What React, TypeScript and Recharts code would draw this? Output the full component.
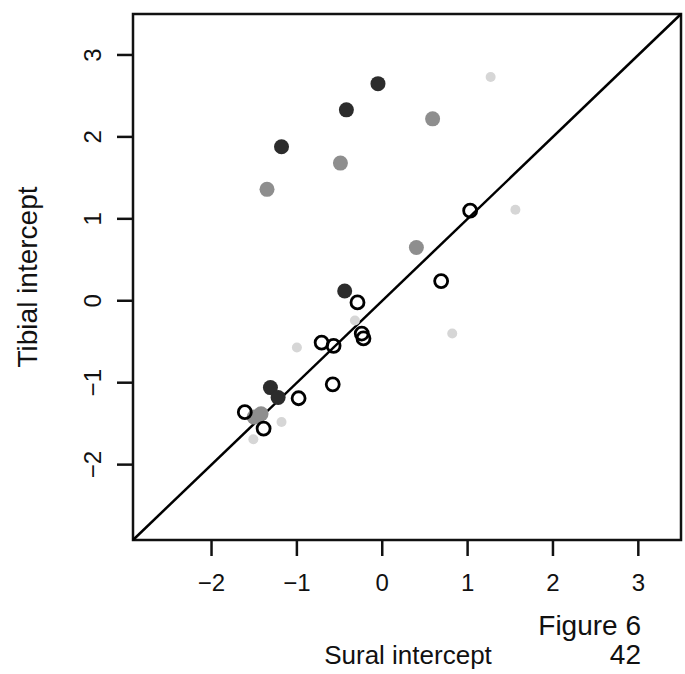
import { ScatterChart, Scatter, XAxis, YAxis, ReferenceLine, ReferenceArea } from 'recharts'

// values
const openX = [1.03, 0.69, -0.29, -0.24, -0.22, -0.71, -0.57, -0.58, -0.98, -1.61, -1.39]
const openY = [1.10, 0.24, -0.02, -0.40, -0.46, -0.51, -0.55, -1.02, -1.19, -1.36, -1.56]
const darkX = [-0.05, -0.42, -1.18, -0.44, -1.31, -1.22]
const darkY = [2.65, 2.33, 1.88, 0.12, -1.06, -1.18]
const grayX = [0.59, -0.49, -1.35, 0.40, -1.50, -1.42]
const grayY = [2.22, 1.68, 1.36, 0.65, -1.42, -1.38]
const lightX = [1.27, 1.56, 0.82, -0.32, -1.00, -1.51, -1.18]
const lightY = [2.73, 1.11, -0.40, -0.24, -0.57, -1.69, -1.48]
const ticks = [-2, -1, 0, 1, 2, 3]
const lo = -2.92
const hi = 3.5

const zip = (xs: number[], ys: number[]) => xs.map((x, i) => ({ x, y: ys[i] }))

const font = '"Liberation Sans", Arial, sans-serif'

const dot = (fill: string, stroke: string, r: number, sw = 0) => (p: any) => (
  <circle cx={p.cx} cy={p.cy} r={r} fill={fill} stroke={stroke} strokeWidth={sw} />
)

const fmt = (v: number) => (v < 0 ? '\u2212' + Math.abs(v) : String(v))

const XTick = (p: any) => (
  <text x={p.x} y={591} textAnchor="middle" fontSize={24} fontFamily={font} fill="#111">
    {fmt(p.payload.value)}
  </text>
)

const YTick = (p: any) => (
  <text x={101} y={p.y} transform={`rotate(-90, 101, ${p.y})`} textAnchor="middle" fontSize={24} fontFamily={font} fill="#111">
    {fmt(p.payload.value)}
  </text>
)

export default function App() {
  return (
    <div style={{ position: 'absolute', left: 0, top: 0, width: 685, height: 674, background: '#fff', fontFamily: font }}>
      <ScatterChart width={685} height={674} margin={{ top: 14, right: 4, bottom: 74, left: 73 }}>
        <XAxis type="number" dataKey="x" domain={[lo, hi]} ticks={ticks} allowDataOverflow
          height={60} axisLine={false} tickSize={16} tickLine={{ stroke: '#111', strokeWidth: 2.5 }} tick={<XTick />} />
        <YAxis type="number" dataKey="y" domain={[lo, hi]} ticks={ticks} allowDataOverflow
          width={60} axisLine={false} tickSize={16} tickLine={{ stroke: '#111', strokeWidth: 2.5 }} tick={<YTick />} />
        <ReferenceArea x1={lo} x2={hi} y1={lo} y2={hi} fill="none" stroke="#111" strokeWidth={2.5} fillOpacity={0} />
        <Scatter data={zip(lightX, lightY)} shape={dot('#d6d6d6', 'none', 5)} isAnimationActive={false} />
        <Scatter data={zip(grayX, grayY)} shape={dot('#8e8e8e', 'none', 7.5)} isAnimationActive={false} />
        <Scatter data={zip(darkX, darkY)} shape={dot('#2c2c2c', 'none', 7.5)} isAnimationActive={false} />
        <Scatter data={zip(openX, openY)} shape={dot('none', '#000', 6.5, 2.8)} isAnimationActive={false} />
        <ReferenceLine segment={[{ x: lo, y: lo }, { x: hi, y: hi }]} stroke="#000" strokeWidth={2.5} />
      </ScatterChart>
      <div style={{ position: 'absolute', left: 28, top: 277, transform: 'translate(-50%, -50%) rotate(-90deg)', fontSize: 28, whiteSpace: 'nowrap', color: '#111' }}>
        Tibial intercept
      </div>
      <div style={{ position: 'absolute', left: 408, top: 655, transform: 'translate(-50%, -50%)', fontSize: 26, whiteSpace: 'nowrap', color: '#111' }}>
        Sural intercept
      </div>
      <div style={{ position: 'absolute', right: 44, top: 626, transform: 'translateY(-50%)', fontSize: 28, whiteSpace: 'nowrap', color: '#111', lineHeight: 1 }}>
        Figure 6
      </div>
      <div style={{ position: 'absolute', right: 44, top: 655, transform: 'translateY(-50%)', fontSize: 28, whiteSpace: 'nowrap', color: '#111', lineHeight: 1 }}>
        42
      </div>
    </div>
  )
}
